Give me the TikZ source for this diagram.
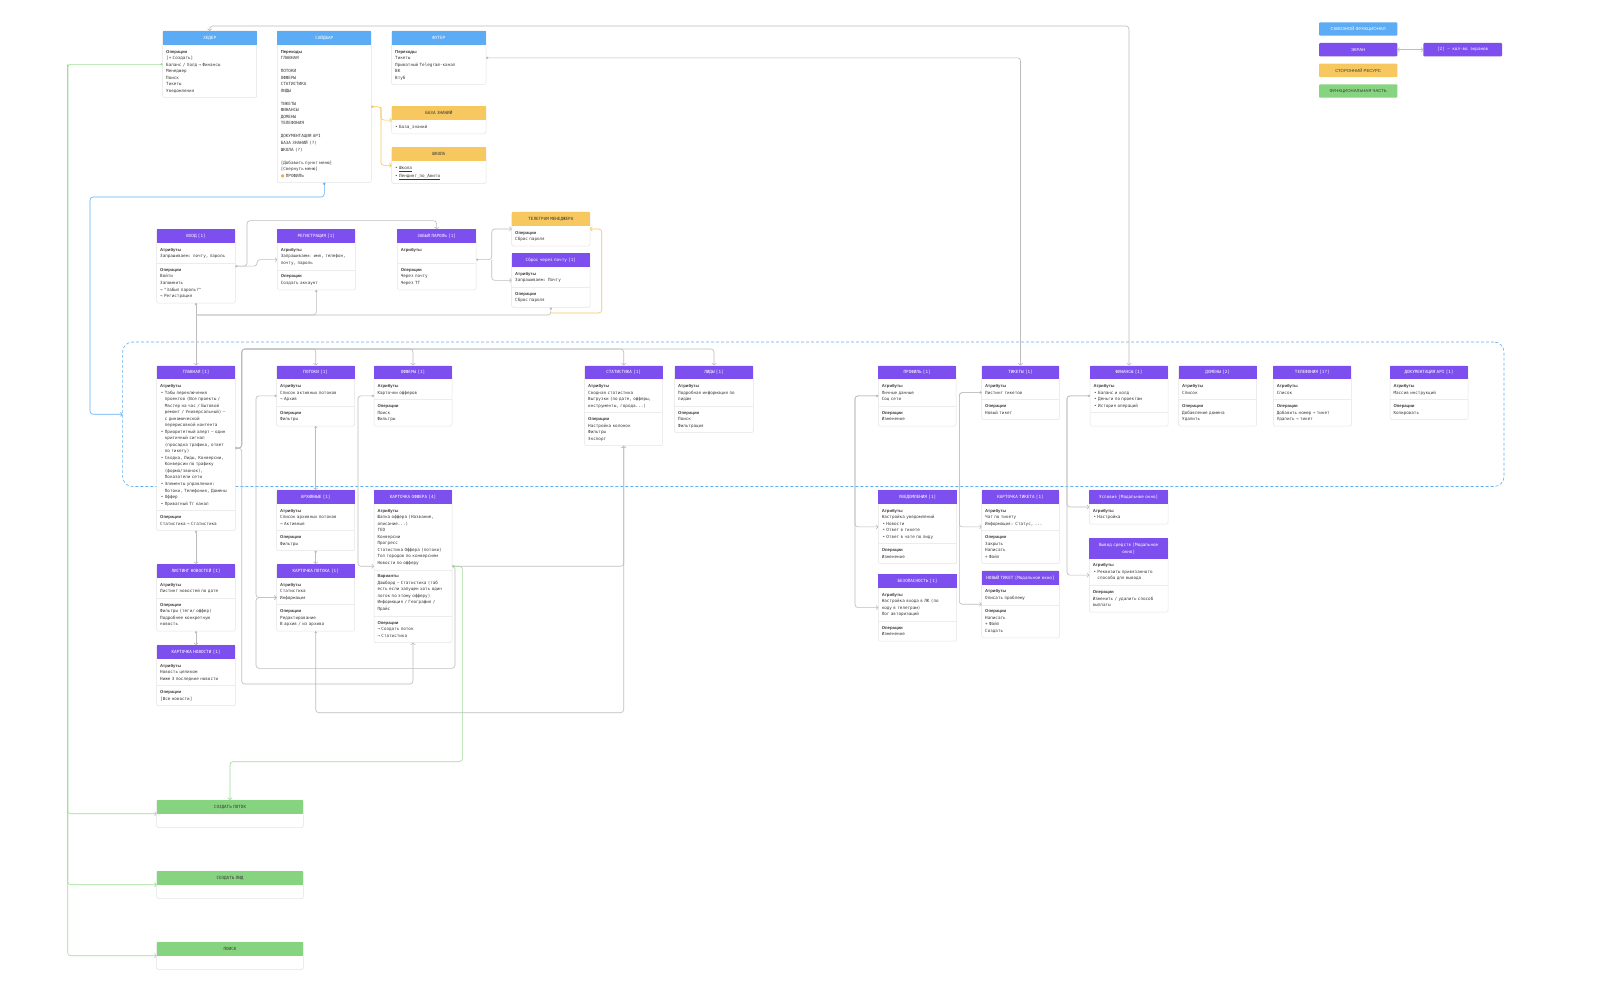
\documentclass[tikz,border=0pt]{standalone}
\usepackage{fontspec}
\newfontfamily\mono{DejaVu Sans Mono}
\newfontfamily\lsans{Liberation Sans}
\newfontfamily\djs{DejaVu Sans}
\usetikzlibrary{arrows.meta,fit,calc}
\pgfdeclarelayer{bgA}
\pgfdeclarelayer{bgB}
\pgfsetlayers{bgA,bgB,main}
\definecolor{cblue}{HTML}{5CACF5}
\definecolor{cpurple}{HTML}{7E4FEF}
\definecolor{cyellow}{HTML}{F6C85F}
\definecolor{cgreen}{HTML}{86D47F}
\definecolor{cline}{HTML}{BDBDBD}
\definecolor{cgline}{HTML}{9EDC97}
\definecolor{cyline}{HTML}{F5C45A}
\definecolor{cbline}{HTML}{62B0F5}
\definecolor{ctext}{HTML}{3A3A3A}
\definecolor{cframe}{HTML}{E4E4E4}
\definecolor{cdiv}{HTML}{ECECEC}
\definecolor{corange}{HTML}{F2A93B}
\newcommand\bodyf{\mono\fontsize{4.25}{6.53}\selectfont}
\newcommand\lbl[1]{{\lsans\bfseries #1}}
\newcommand\sx{\rule[-1.95pt]{0pt}{6.53pt}}
\newcommand\bulind{\hphantom{\,• }}
\tikzset{
  hdb/.style={anchor=north west, inner xsep=2pt, inner ysep=3.73pt, align=center, font=\bodyf, outer sep=0pt},
  secb/.style={anchor=north west, inner xsep=3.5pt, inner ysep=3.5pt, align=left, font=\bodyf, text=ctext, outer sep=0pt},
  boxfr/.style={draw=cframe, line width=0.5pt, fill=white, rounded corners=1.5pt, inner sep=0pt, outer sep=0pt},
  divl/.style={draw=cdiv, line width=0.5pt},
  purp/.style={fill=cpurple, text=white},
  blu/.style={fill=cblue, text=white},
  yel/.style={fill=cyellow, text=ctext},
  grn/.style={fill=cgreen, text=ctext},
  conn/.style={draw=cline, line width=0.6pt, rounded corners=3pt},
  ar/.style={-{Straight Barb[length=1.8pt,width=4.2pt]}},
  dt/.style={{Circle[length=2.4pt]}-},
  dtar/.style={{Circle[length=2.4pt]}-{Straight Barb[length=1.8pt,width=4.2pt]}},
  biar/.style={{Straight Barb[length=1.8pt,width=4.2pt]}-{Straight Barb[length=1.8pt,width=4.2pt]}},
  leg/.style={anchor=north west, minimum width=78.3pt, minimum height=13.4pt, inner sep=0pt, outer sep=0pt, font=\lsans\fontsize{4.3}{5}\selectfont, rounded corners=1pt}
}
\newcommand\scrA[7]{%
  \pgfmathsetmacro\scrTW{#4-7}\pgfmathsetmacro\scrHW{#4-4}%
  \node[hdb,#5,text width=\scrHW pt] (#1-h) at (#2,#3) {\sx #6\sx};
  \node[secb,text width=\scrTW pt] (#1-s1) at (#1-h.south west) {\sx #7\sx};
  \begin{pgfonlayer}{bgB}\node[boxfr,fit=(#1-h)(#1-s1)] (#1) {};\end{pgfonlayer}}
\newcommand\scrB[8]{%
  \pgfmathsetmacro\scrTW{#4-7}\pgfmathsetmacro\scrHW{#4-4}%
  \node[hdb,#5,text width=\scrHW pt] (#1-h) at (#2,#3) {\sx #6\sx};
  \node[secb,text width=\scrTW pt] (#1-s1) at (#1-h.south west) {\sx #7\sx};
  \node[secb,text width=\scrTW pt] (#1-s2) at (#1-s1.south west) {\sx #8\sx};
  \draw[divl] (#1-s2.north west) -- (#1-s2.north east);
  \begin{pgfonlayer}{bgB}\node[boxfr,fit=(#1-h)(#1-s2)] (#1) {};\end{pgfonlayer}}
\newcommand\scrC[9]{%
  \pgfmathsetmacro\scrTW{#4-7}\pgfmathsetmacro\scrHW{#4-4}%
  \node[hdb,#5,text width=\scrHW pt] (#1-h) at (#2,#3) {\sx #6\sx};
  \node[secb,text width=\scrTW pt] (#1-s1) at (#1-h.south west) {\sx #7\sx};
  \node[secb,text width=\scrTW pt] (#1-s2) at (#1-s1.south west) {\sx #8\sx};
  \node[secb,text width=\scrTW pt] (#1-s3) at (#1-s2.south west) {\sx #9\sx};
  \draw[divl] (#1-s2.north west) -- (#1-s2.north east);
  \draw[divl] (#1-s3.north west) -- (#1-s3.north east);
  \begin{pgfonlayer}{bgB}\node[boxfr,fit=(#1-h)(#1-s3)] (#1) {};\end{pgfonlayer}}
\begin{document}
\begin{tikzpicture}[x=1pt,y=-1pt]
\useasboundingbox (0,0) rectangle (1600,1000);
\begin{pgfonlayer}{bgA}\fill[white] (0,0) rectangle (1600,1000);\end{pgfonlayer}
\begin{pgfonlayer}{bgB}
\node[draw=cbline, dash pattern=on 3pt off 2pt, line width=0.6pt, rounded corners=10pt, minimum width=1381.4pt, minimum height=144.5pt, anchor=north west, inner sep=0pt, outer sep=0pt] (cont) at (122.6,342) {};
\end{pgfonlayer}

% ---------- top row ----------
\scrA{hdr}{162.7}{31}{94}{blu}{ХЕДЕР}{\lbl{Операции}\\ {[}+ Создать{]}\\ Баланс / Холд → Финансы\\ Менеджер\\ Поиск\\ Тикеты\\ Уведомления}
\scrA{sbar}{277.3}{31}{94}{blu}{САЙДБАР}{\lbl{Переходы}\\ ГЛАВНАЯ\\ \mbox{}\\ ПОТОКИ\\ ОФФЕРЫ\\ СТАТИСТИКА\\ ЛИДЫ\\ \mbox{}\\ ТИКЕТЫ\\ ФИНАНСЫ\\ ДОМЕНЫ\\ ТЕЛЕФОНИЯ\\ \mbox{}\\ ДОКУМЕНТАЦИЯ API\\ БАЗА ЗНАНИЙ (?)\\ ШКОЛА (?)\\ \mbox{}\\ {[}Добавить пункт меню{]}\\ {[}Свернуть меню{]}\\ {\djs\color{corange}●} ПРОФИЛЬ}
\scrA{ftr}{391.7}{31}{94.3}{blu}{ФУТЕР}{\lbl{Переходы}\\ Тикеты\\ Приватный Telegram-канал\\ ВК\\ Втуб}
\scrA{kb}{391.7}{106.3}{94.3}{yel}{БАЗА ЗНАНИЙ}{• База\_знаний}
\scrA{school}{391.7}{147.3}{94.3}{yel}{ШКОЛА}{• \underline{Школа}\\ • \underline{Лендинг\_по\_Авито}}

% ---------- auth ----------
\scrB{login}{156.7}{229.3}{78.6}{purp}{ВХОД [1]}{\lbl{Атрибуты}\\ Запрашиваем: почту, пароль}{\lbl{Операции}\\ Войти\\ Запомнить\\ → "Забыл пароль?"\\ → Регистрация}
\scrB{reg}{277.3}{229.3}{78}{purp}{РЕГИСТРАЦИЯ [1]}{\lbl{Атрибуты}\\ Запрашиваем: имя, телефон,\\ почту, пароль}{\lbl{Операции}\\ Создать аккаунт}
\scrB{forgot}{397.3}{229.3}{78.7}{purp}{ЗАБЫЛ ПАРОЛЬ [1]}{\lbl{Атрибуты}\\ \mbox{}}{\lbl{Операции}\\ Через почту\\ Через ТГ}
\scrA{tgm}{511.7}{212}{78.3}{yel}{ТЕЛЕГРАМ МЕНЕДЖЕРА}{\lbl{Операции}\\ Сброс пароля}
\scrB{reset}{511.7}{253.3}{78.3}{purp}{Сброс через почту [1]}{\lbl{Атрибуты}\\ Запрашиваем: Почту}{\lbl{Операции}\\ Сброс пароля}

% ---------- main row ----------
\scrB{home}{156.7}{365.5}{78.6}{purp}{ГЛАВНАЯ [1]}{\lbl{Атрибуты}\\
\,• Табы переключения\\
\bulind проектов (Все проекты /\\
\bulind Мастер на час / Бытовой\\
\bulind ремонт / Универсальный) –\\
\bulind с динамической\\
\bulind перерисовкой контента\\
\,• Приоритетный алерт – один\\
\bulind критичный сигнал\\
\bulind (просадка трафика, ответ\\
\bulind по тикету)\\
\,• Сводка, Лиды, Конверсии,\\
\bulind Конверсии по трафику\\
\bulind (форма/звонок),\\
\bulind Показатели сети\\
\,• Элементы управления:\\
\bulind Потоки, Телефония, Домены\\
\,• Оффер\\
\,• Приватный Тг канал}{\lbl{Операции}\\ Статистика → Статистика}
\scrB{flows}{276.7}{365.5}{78}{purp}{ПОТОКИ [1]}{\lbl{Атрибуты}\\ Список активных потоков\\ → Архив}{\lbl{Операции}\\ Фильтры}
\scrB{offers}{374}{365.5}{78}{purp}{ОФФЕРЫ [1]}{\lbl{Атрибуты}\\ Карточки офферов}{\lbl{Операции}\\ Поиск\\ Фильтры}
\scrB{stat}{584.7}{365.5}{78}{purp}{СТАТИСТИКА [1]}{\lbl{Атрибуты}\\ Сводная статистика\\ Выгрузки (по дате, офферы,\\ инструменты, города...)}{\lbl{Операции}\\ Настройка колонок\\ Фильтры\\ Экспорт}
\scrB{leads}{674.7}{365.5}{78.6}{purp}{ЛИДЫ [1]}{\lbl{Атрибуты}\\ Подробная информация по\\ лидам}{\lbl{Операции}\\ Поиск\\ Фильтрация}
\scrB{prof}{878.3}{365.5}{77.7}{purp}{ПРОФИЛЬ [1]}{\lbl{Атрибуты}\\ Личные данные\\ Соц сети}{\lbl{Операции}\\ Изменение}
\scrB{tick}{981.7}{365.5}{77.6}{purp}{ТИКЕТЫ [1]}{\lbl{Атрибуты}\\ Листинг тикетов}{\lbl{Операции}\\ Новый тикет}
\scrB{fin}{1090}{365.5}{78}{purp}{ФИНАНСЫ [1]}{\lbl{Атрибуты}\\ \,• Баланс и холд\\ \,• Деньги по проектам\\ \,• История операций}{\mbox{}}
\scrB{dom}{1178.7}{365.5}{78}{purp}{ДОМЕНЫ [2]}{\lbl{Атрибуты}\\ Список}{\lbl{Операции}\\ Добавление домена\\ Удалить}
\scrB{tel}{1273.3}{365.5}{78}{purp}{ТЕЛЕФОНИЯ [1?]}{\lbl{Атрибуты}\\ Список}{\lbl{Операции}\\ Добавить номер → тикет\\ Удалить → тикет}
\scrB{api}{1390}{365.5}{78}{purp}{ДОКУМЕНТАЦИЯ API [1]}{\lbl{Атрибуты}\\ Массив инструкций}{\lbl{Операции}\\ Копировать}

% ---------- lower left ----------
\scrB{arch}{276.7}{490}{78}{purp}{АРХИВНЫЕ [1]}{\lbl{Атрибуты}\\ Список архивных потоков\\ → Активные}{\lbl{Операции}\\ Фильтры}
\scrC{ocard}{374}{490}{78}{purp}{КАРТОЧКА ОФФЕРА [4]}{\lbl{Атрибуты}\\ Шапка оффера (Название,\\ описание...)\\ ГЕО\\ Конверсии\\ Прогресс\\ Статистика Оффера (потоки)\\ Топ городов по конверсиям\\ Новости по офферу}{\lbl{Варианты}\\ Дашборд – Статистика (таб\\ есть если запущен хоть один\\ поток по этому офферу)\\ Информация / География /\\ Прайс}{\lbl{Операции}\\ → Создать поток\\ → Статистика}
\scrB{fcard}{276.7}{564}{78}{purp}{КАРТОЧКА ПОТОКА [1]}{\lbl{Атрибуты}\\ Статистика\\ Информация}{\lbl{Операции}\\ Редактирование\\ В архив / из архива}
\scrB{nlist}{156.7}{564}{78.6}{purp}{ЛИСТИНГ НОВОСТЕЙ [1]}{\lbl{Атрибуты}\\ Листинг новостей по дате}{\lbl{Операции}\\ Фильтры (теги/ оффер)\\ Подробнее конкретную\\ новость}
\scrB{ncard}{156.7}{645}{78.6}{purp}{КАРТОЧКА НОВОСТИ [1]}{\lbl{Атрибуты}\\ Новость целиком\\ Ниже 3 последние новости}{\lbl{Операции}\\ {[}Все новости{]}}

% ---------- lower right ----------
\scrB{notif}{878.3}{490}{78.4}{purp}{УВЕДОМЛЕНИЯ [1]}{\lbl{Атрибуты}\\ Настройка уведомлений\\ \,• Новости\\ \,• Ответ в тикете\\ \,• Ответ в чате по лиду}{\lbl{Операции}\\ Изменение}
\scrB{secur}{878.3}{574}{78.4}{purp}{БЕЗОПАСНОСТЬ [1]}{\lbl{Атрибуты}\\ Настройка входа в ЛК (по\\ коду в телеграм)\\ Лог авторизаций}{\lbl{Операции}\\ Изменение}
\scrB{tcard}{981.7}{490}{77.6}{purp}{КАРТОЧКА ТИКЕТА [1]}{\lbl{Атрибуты}\\ Чат по тикету\\ Информация: Статус, ...}{\lbl{Операции}\\ Закрыть\\ Написать\\ + Файл}
\scrB{ntick}{981.7}{570.7}{77.6}{purp}{НОВЫЙ ТИКЕТ [Модальное окно]}{\lbl{Атрибуты}\\ Описать проблему}{\lbl{Операции}\\ Написать\\ + Файл\\ Создать}
\scrA{cond}{1089.3}{490}{78.7}{purp}{Условия [Модальное окно]}{\lbl{Атрибуты}\\ \,• Настройка}
\scrB{withd}{1089.3}{538.3}{78.7}{purp}{Вывод средств [Модальное\\ окно]}{\lbl{Атрибуты}\\ \,• Реквизиты привязанного\\ \bulind способа для вывода}{\lbl{Операции}\\ Изменить / удалить способ\\ выплаты}

% ---------- functional parts ----------
\scrA{gflow}{156.7}{800}{146.6}{grn}{СОЗДАТЬ ПОТОК}{\mbox{}}
\scrA{glead}{156.7}{871}{146.6}{grn}{СОЗДАТЬ ЛИД}{\mbox{}}
\scrA{gsearch}{156.7}{942}{146.6}{grn}{ПОИСК}{\mbox{}}

% ---------- legend ----------
\node[leg,blu] (lg1) at (1319,22.3) {СКВОЗНОЙ ФУНКЦИОНАЛ};
\node[leg,purp] (lg2) at (1319,43) {ЭКРАН};
\node[leg,purp,minimum width=78.7pt,font=\mono\fontsize{4.25}{5}\selectfont] (lg3) at (1423.3,43) {[2] – кол-во экранов};
\node[leg,yel] (lg4) at (1319,63.7) {СТОРОННИЙ РЕСУРС};
\node[leg,grn] (lg5) at (1319,84.3) {ФУНКЦИОНАЛЬНАЯ ЧАСТЬ};
\draw[conn,biar] (lg2.east) -- (lg3.west);

% ---------- helper coordinates ----------
\coordinate (yTop) at (0,26);
\coordinate (ybr) at (381,0);
\coordinate (bl1) at (90,197);
\coordinate (gx) at (67.7,0);
\coordinate (a1) at (247,220.7);
\coordinate (a2) at (257,0);
\coordinate (a3) at (491.7,0);
\coordinate (b1) at (196,315);
\coordinate (yb) at (601.7,313);
\coordinate (m1) at (241.7,349);
\coordinate (m2) at (241.7,684);
\coordinate (f1) at (256,0);
\coordinate (o2) at (455,668.3);
\coordinate (o3) at (462.3,761.7);
\coordinate (p1) at (0,712.7);
\coordinate (of1) at (358,0);
\coordinate (p2) at (855,0);
\coordinate (t2) at (959.3,0);
\coordinate (fi2) at (1067,0);

% ---------- connectors: top ----------
\draw[conn,biar] (hdr.north) -- (hdr.north |- yTop) -| (fin.north);
\draw[conn,dtar] (ftr.east) -| (tick.north);
\draw[conn,draw=cyline,dtar] (sbar.east) -- (sbar.east -| ybr) |- (kb.west);
\draw[conn,draw=cyline,ar] (sbar.east -| ybr) |- (school.west);
\draw[conn,draw=cbline,dtar] (sbar.south) |- (bl1) |- (cont.west);
\draw[conn,draw=cgline,dtar] (hdr.west) -| (gx |- gflow.west) -- (gflow.west);
\draw[conn,draw=cgline,ar] (hdr.west -| gx) |- (glead.west);
\draw[conn,draw=cgline,ar] (hdr.west -| gx) |- (gsearch.west);

% ---------- connectors: auth ----------
\draw[conn,dtar] (login.east) -| (a1) -| (forgot.north);
\draw[conn,ar] (login.east) -- (login.east -| a2) |- (reg.west);
\draw[conn,dtar] (forgot.east) -- (forgot.east -| a3) |- (tgm.west);
\draw[conn,ar] (forgot.east -| a3) |- (reset.west);
\draw[conn,dtar] (login.south) -- (home.north);
\draw[conn,dt] (reg.south) |- (b1);
\draw[conn,dt] (reset.south) |- (b1);
\draw[conn,draw=cyline,ar] (reset.south |- yb) -- (yb) |- (tgm.east);

% ---------- connectors: main ----------
\draw[conn,dtar] (home.east) -| (m1) -| (flows.north);
\draw[conn,ar] (home.east) -| (m1) -| (offers.north);
\draw[conn,ar] (home.east) -| (m1) -| (stat.north);
\draw[conn,ar] (home.east) -| (m1) -| (leads.north);
\draw[conn,ar] (home.east) -| (m2) -| (ocard.south);
\draw[conn,dtar] (flows.west) -| (fcard.west -| f1) -- (fcard.west);
\draw[conn,ar] (ocard.east) -| (o2) -| (fcard.west -| f1) -- (fcard.west);
\draw[conn,dtar] (ocard.east) -| (stat.south);
\draw[conn,draw=cgline,ar] (ocard.east) -| (o3) -| (gflow.north);
\draw[conn,dtar] (fcard.south) -- (fcard.south |- p1) -| (stat.south);
\draw[conn,dtar] (flows.south) -- (arch.north);
\draw[conn,dtar] (arch.south) -- (fcard.north);
\draw[conn,dtar] (offers.west) -| (ocard.west -| of1) -- (ocard.west);
\draw[conn,dtar] (home.south) -- (nlist.north);
\draw[conn,dtar] (nlist.south) -- (ncard.north);

% ---------- connectors: right ----------
\draw[conn,dtar] (prof.west) -| (notif.west -| p2) -- (notif.west);
\draw[conn,ar] (prof.west) -| (secur.west -| p2) -- (secur.west);
\draw[conn,dtar] (tick.west) -| (tcard.west -| t2) -- (tcard.west);
\draw[conn,ar] (tick.west) -| (ntick.west -| t2) -- (ntick.west);
\draw[conn,dtar] (fin.west) -| (cond.west -| fi2) -- (cond.west);
\draw[conn,ar] (fin.west) -| (withd.west -| fi2) -- (withd.west);
\end{tikzpicture}
\end{document}
